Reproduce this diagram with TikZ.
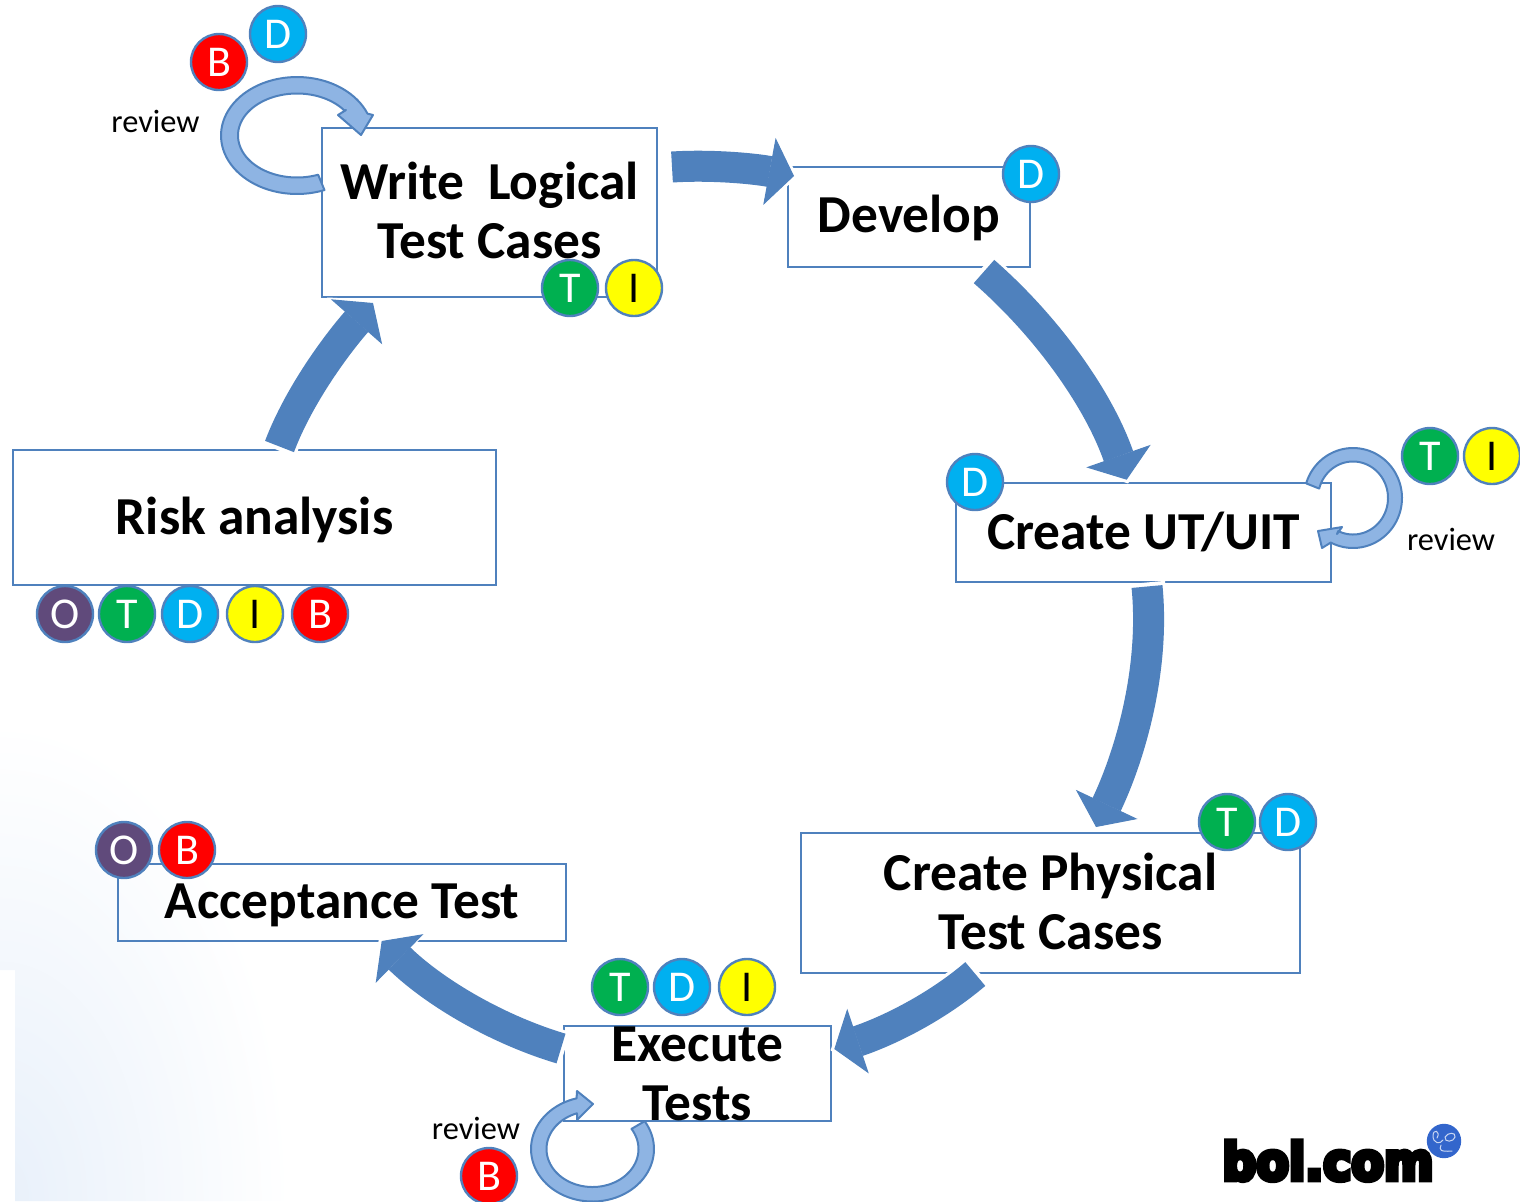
\documentclass[tikz,border=0pt]{standalone}
\usepackage{fontspec}
\setmainfont{Carlito}
\newfontfamily\logofont[FakeBold=10]{DejaVu Sans Bold}
\usetikzlibrary{arrows.meta,calc}
\definecolor{edge}{HTML}{4F81BD}
\definecolor{loopfill}{HTML}{8EB4E3}
\definecolor{bgblue}{HTML}{E8F0FA}
\definecolor{cO}{HTML}{604A7B}
\definecolor{cT}{HTML}{00B050}
\definecolor{cD}{HTML}{00B0F0}
\definecolor{cI}{HTML}{FFFF00}
\definecolor{cB}{HTML}{FF0000}
\definecolor{logoblue}{HTML}{3366CC}
\definecolor{logoline}{HTML}{C8D6F2}
\tikzset{
  procbox/.style={draw=edge,line width=1pt,inner sep=0pt},
  boxtext/.style={font=\fontsize{26.7}{29.5}\selectfont\bfseries,align=center,inner sep=0pt},
  reviewtext/.style={font=\fontsize{16.2}{19}\selectfont,inner sep=0pt},
  badge/.style={circle,draw=edge,line width=1.2pt,minimum size=28pt,inner sep=0pt,font=\fontsize{22}{24}\selectfont},
  badgeO/.style={badge,fill=cO,text=white},
  badgeT/.style={badge,fill=cT,text=white},
  badgeD/.style={badge,fill=cD,text=white},
  badgeI/.style={badge,fill=cI,text=black},
  badgeB/.style={badge,fill=cB,text=white},
  blockarrow/.style={draw=edge,line width=15.5pt,-{Triangle[length=12.5pt,width=34pt,line width=0.5pt,fill=edge]}},
  blockhalo/.style={draw=white,line width=18.5pt,shorten >=-2pt,shorten <=-2pt,-{Triangle[length=15pt,width=38pt,line width=0pt,fill=white]}},
  loopshape/.style={draw=edge,fill=loopfill,line width=1pt,line join=round},
}
\newcommand\blockconn[4]{%
  \draw[blockhalo] #1 .. controls #2 and #3 .. #4;
  \draw[blockarrow] #1 .. controls #2 and #3 .. #4;
}
\begin{document}
\begin{tikzpicture}[x=0.5pt,y=-0.5pt]
\useasboundingbox (0,0) rectangle (1520,1201);
\clip (0,0) rectangle (1520,1201);

% background wash
\begin{scope}
  \clip (0,700) -- (420,700) -- (420,1201) -- (15,1201) -- (15,970) -- (0,970) -- cycle;
  \shade[inner color=bgblue,outer color=white] (0,1201) ellipse (145pt and 240pt);
\end{scope}

% boxes
\node[procbox,minimum width=167.5pt,minimum height=84.5pt] (write) at (489.5,212.5) {};
\node[procbox,minimum width=121pt,minimum height=50pt] (develop) at (909,217) {};
\node[procbox,minimum width=241.5pt,minimum height=67.5pt] (risk) at (254.5,517.5) {};
\node[procbox,minimum width=187.5pt,minimum height=49.5pt] (ut) at (1143.5,532.5) {};
\node[procbox,minimum width=249.5pt,minimum height=70pt] (physical) at (1050.5,903) {};
\node[procbox,minimum width=224pt,minimum height=38.5pt] (accept) at (342,902.5) {};
\node[procbox,minimum width=133.5pt,minimum height=47.5pt] (exec) at (697.5,1073.5) {};

% block connectors
\blockconn{($(risk.north)+(25,-2.5)$)}{+(19.5,-51.5)}{+(-36,41)}{($(write.south)+(-116.5,5)$)}
\blockconn{($(write.east)+(14,-45.5)$)}{+(40,-2.5)}{+(-40,-7.4)}{($(develop.west)+(7,-41)$)}
\blockconn{($(develop.south)+(75,3.5)$)}{+(64,56)}{+(-28,-80)}{($(ut.north)+(-16.8,-2.3)$)}
\blockconn{($(ut.south)+(3.5,3.5)$)}{+(8,81.5)}{+(35,-74)}{($(physical.north)+(45.5,-5)$)}
\blockconn{($(physical.south)+(-75.2,0)$)}{+(-41,35)}{+(51,-17)}{($(exec.east)+(2.3,-24.5)$)}
\blockconn{($(exec.west)+(-2,-25)$)}{+(-67,-20)}{+(50,49)}{($(accept.south)+(39.7,-1)$)}

% review loops
\draw[loopshape] plot[domain=68.8:338,samples=70] ({297+76*cos(\x)},{135.5+58.5*sin(\x)})
  -- (373,115) -- (361,135) -- (338,115) -- (346,110)
  -- plot[domain=324:69,samples=70] ({297+59*cos(\x)},{135.5+42*sin(\x)}) -- cycle;
\draw[loopshape] plot[domain=197:477,samples=70] ({1353+49*cos(\x)},{498+50*sin(\x)})
  -- (1322,548) -- (1318,531) -- (1342,527) -- (1337,534)
  -- plot[domain=475:195,samples=70] ({1353+35*cos(\x)},{498+36.5*sin(\x)}) -- cycle;
\draw[loopshape] plot[domain=-32:255,samples=70] ({592.5+61.5*cos(\x)},{1149+52.5*sin(\x)})
  -- (577,1091) -- (593,1104) -- (577,1120) -- (577,1114)
  -- plot[domain=250:-32,samples=70] ({592.5+46*cos(\x)},{1149+38*sin(\x)}) -- cycle;

% box labels
\node[boxtext] (writet) at ($(write)+(0,-2)$) {Write\ \ Logical\\Test Cases};
\node[boxtext] (developt) at ($(develop)+(0,1)$) {Develop};
\node[boxtext] (riskt) at ($(risk)+(0,2)$) {Risk analysis};
\node[boxtext] (utt) at ($(ut)+(0,-1)$) {Create UT/UIT};
\node[boxtext] (physicalt) at ($(physical)+(0,-2)$) {Create Physical\\Test Cases};
\node[boxtext] (acceptt) at ($(accept)+(0,3)$) {Acceptance Test};
\node[boxtext] (exect) at (exec) {Execute\\Tests};

% review labels
\node[reviewtext] (rev1) at (155.5,121) {review};
\node[reviewtext] (rev2) at (1451,539) {review};
\node[reviewtext] (rev3) at (476,1128) {review};

% role badges
\node[badgeD] (b1) at (278,34) {D};
\node[badgeB] (b2) at (219,62) {B};
\node[badgeD] (b3) at (1031,174) {D};
\node[badgeT] (b4) at (570,288) {T};
\node[badgeI] (b5) at (634,288) {I};
\node[badgeO] (b6) at (65,614) {O};
\node[badgeT] (b7) at (127,614) {T};
\node[badgeD] (b8) at (190,614) {D};
\node[badgeI] (b9) at (255,614) {I};
\node[badgeB] (b10) at (320,614) {B};
\node[badgeD] (b11) at (975,482) {D};
\node[badgeT] (b12) at (1430,456) {T};
\node[badgeI] (b13) at (1492,456) {I};
\node[badgeT] (b14) at (1227,822) {T};
\node[badgeD] (b15) at (1288,822) {D};
\node[badgeO] (b16) at (124,850) {O};
\node[badgeB] (b17) at (187,850) {B};
\node[badgeT] (b18) at (620,987) {T};
\node[badgeD] (b19) at (682,987) {D};
\node[badgeI] (b20) at (747,987) {I};
\node[badgeB] (b21) at (489,1176) {B};

% logo
\node[anchor=south west,inner sep=0pt] (logo) at (1222,1181) {\resizebox{105.5pt}{19.5pt}{\logofont bol.com}};
\fill[logoblue] (1444,1141) circle (8.6pt);
\draw[logoline,line width=0.5pt,line cap=round]
  (1437,1138) .. controls (1441,1131) and (1433,1128) .. (1433,1136)
  .. controls (1433,1143) and (1440,1145) .. (1443,1140);
\draw[logoline,line width=0.5pt,line cap=round]
  (1445,1137) .. controls (1448,1132) and (1456,1132) .. (1455,1137)
  .. controls (1454,1142) and (1444,1143) .. (1445,1137);
\draw[logoline,line width=0.5pt,line cap=round]
  (1441,1145) .. controls (1439,1150) and (1440,1152) .. (1452,1151);
\end{tikzpicture}
\end{document}
